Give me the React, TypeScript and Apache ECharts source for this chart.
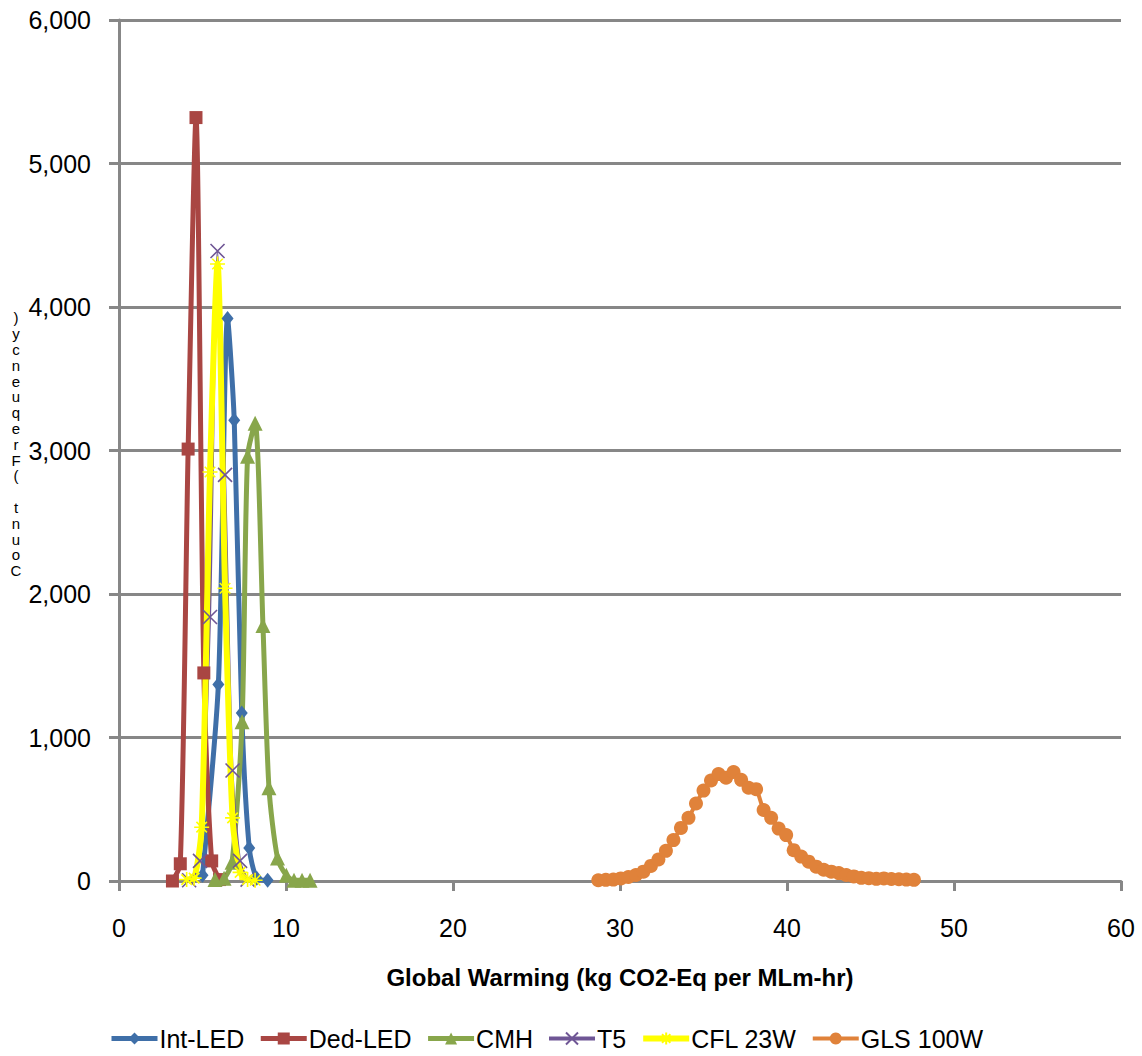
import React, { useEffect, useRef } from "react";
import * as echarts from "echarts";

// ---- data ----
const intLedX = [5.0, 5.95, 6.5, 6.9, 7.35, 7.8, 8.25, 8.9];
const intLedY = [40, 1370, 3920, 3210, 1170, 230, 20, 5];

const dedLedX = [3.2, 3.67, 4.14, 4.61, 5.08, 5.55, 6.02];
const dedLedY = [0, 120, 3010, 5320, 1450, 140, 10];

const cmhX = [5.75, 6.29, 6.77, 7.37, 7.7, 8.15, 8.62, 8.98, 9.49, 10.02, 10.48, 10.96, 11.44];
const cmhY = [10, 20, 130, 1110, 2960, 3190, 1780, 650, 160, 40, 5, 5, 5];

const t5X = [4.2, 4.85, 5.45, 5.9, 6.35, 6.8, 7.25, 7.7];
const t5Y = [5, 140, 1840, 4390, 2830, 770, 140, 10];

const cflX = [4.05, 4.5, 4.95, 5.45, 5.9, 6.35, 6.8, 7.25, 7.7, 8.15];
const cflY = [10, 20, 375, 2850, 4300, 2040, 440, 60, 10, 5];

const glsX = [
  28.7, 29.15, 29.6, 30.05, 30.5, 30.95, 31.4, 31.85, 32.3, 32.75, 33.2, 33.65,
  34.1, 34.55, 35.0, 35.45, 35.9, 36.35, 36.8, 37.25, 37.7, 38.15, 38.6, 39.05,
  39.5, 39.95, 40.4, 40.85, 41.3, 41.75, 42.2, 42.65, 43.1, 43.55, 44.0, 44.45,
  44.9, 45.35, 45.8, 46.25, 46.7, 47.15, 47.6,
];
const glsY = [
  5, 8, 10, 18, 28, 42, 65, 105, 150, 210, 285, 370,
  440, 540, 630, 700, 745, 720, 760, 705, 650, 640, 495, 440,
  365, 320, 215, 170, 135, 100, 78, 65, 55, 42, 32, 22,
  20, 15, 18, 14, 12, 10, 8,
];

const seriesNames = ["Int-LED", "Ded-LED", "CMH", "T5", "CFL 23W", "GLS 100W"];
const seriesColors = ["#3F6FA8", "#A94643", "#88A64B", "#6F5695", "#FFFF00", "#E0823A"];
const seriesWidths = [5, 5, 5, 2, 6, 4];
const xTicks = { min: 0, max: 60, interval: 10 };
const yTicks = { min: 0, max: 6000, interval: 1000 };
const xTitle = "Global Warming (kg CO2-Eq per MLm-hr)";
const yTitle = "Count (Frequency)";

const zip = (xs: number[], ys: number[]) => xs.map((x, i) => [x, ys[i]]);

const FONT = "'Liberation Sans', Arial, sans-serif";
const GRAY = "#878787";

const X_PATH = "path://M0,0 L10,10 M10,0 L0,10";
const STAR_PATH = "path://M0,5 L10,5 M5,0 L5,10 M1.5,1.5 L8.5,8.5 M8.5,1.5 L1.5,8.5";

export default function App() {
  const ref = useRef<HTMLDivElement>(null);

  useEffect(() => {
    if (!ref.current) return;
    const chart = echarts.init(ref.current, undefined, { renderer: "svg" });

    const mk = (
      idx: number,
      data: number[][],
      symbol: string,
      symbolSize: number | number[],
      stroked = false
    ) => {
      const color = seriesColors[idx];
      return {
        name: seriesNames[idx],
        type: "line",
        data,
        smooth: 0.25,
        symbol,
        symbolSize,
        showSymbol: true,
        lineStyle: { color, width: seriesWidths[idx] },
        itemStyle: stroked
          ? { color, borderColor: color, borderWidth: 1.6 }
          : { color, borderColor: color, borderWidth: 0 },
        emphasis: { disabled: true },
        z: 2,
      };
    };

    // y-axis title drawn as stacked characters (bottom to top)
    const stacked = yTitle.split("").reverse().join("\n");

    chart.setOption({
      animation: false,
      grid: { left: 119, right: 21, top: 20, bottom: 175, containLabel: false },
      xAxis: {
        type: "value",
        min: xTicks.min,
        max: xTicks.max,
        interval: xTicks.interval,
        axisLine: { show: true, lineStyle: { color: GRAY, width: 3 } },
        axisTick: { show: true, length: 10, inside: false, lineStyle: { color: GRAY, width: 3 } },
        splitLine: { show: false },
        axisLabel: { color: "#000", fontFamily: FONT, fontSize: 25, margin: 34 },
      },
      yAxis: {
        type: "value",
        min: yTicks.min,
        max: yTicks.max,
        interval: yTicks.interval,
        axisLine: { show: true, lineStyle: { color: GRAY, width: 3 } },
        axisTick: { show: true, length: 10, inside: false, lineStyle: { color: GRAY, width: 3 } },
        splitLine: { show: true, lineStyle: { color: GRAY, width: 3 } },
        axisLabel: {
          color: "#000",
          fontFamily: FONT,
          fontSize: 25,
          margin: 28,
          formatter: (v: number) => v.toLocaleString("en-US"),
        },
      },
      legend: {
        bottom: 0,
        left: 104,
        itemWidth: 46,
        itemHeight: 15,
        itemGap: 14,
        textStyle: { fontFamily: FONT, fontSize: 25, color: "#000", padding: [0, 0, 0, -3] },
        data: seriesNames.map((n, i) => ({
          name: n,
          lineStyle: { width: Math.max(seriesWidths[i], 4), color: seriesColors[i] },
        })),
      },
      graphic: [
        {
          type: "text",
          x: 620,
          y: 977,
          style: {
            text: xTitle,
            align: "center",
            verticalAlign: "middle",
            fontFamily: FONT,
            fontWeight: "bold",
            fontSize: 24,
            fill: "#000",
          },
        },
        {
          type: "text",
          x: 16,
          y: 310,
          style: {
            text: stacked,
            align: "center",
            verticalAlign: "top",
            fontFamily: FONT,
            fontSize: 15,
            lineHeight: 15.8,
            fill: "#000",
          },
        },
      ],
      series: [
        mk(0, zip(intLedX, intLedY), "diamond", [12, 15]),
        mk(1, zip(dedLedX, dedLedY), "rect", 13),
        mk(2, zip(cmhX, cmhY), "triangle", 15),
        mk(3, zip(t5X, t5Y), X_PATH, 14, true),
        mk(4, zip(cflX, cflY), STAR_PATH, 15, true),
        mk(5, zip(glsX, glsY), "circle", 14),
      ],
    });

    return () => chart.dispose();
  }, []);

  return (
    <div
      ref={ref}
      style={{ position: "absolute", left: 0, top: 0, width: 1142, height: 1056, background: "#fff" }}
    />
  );
}
